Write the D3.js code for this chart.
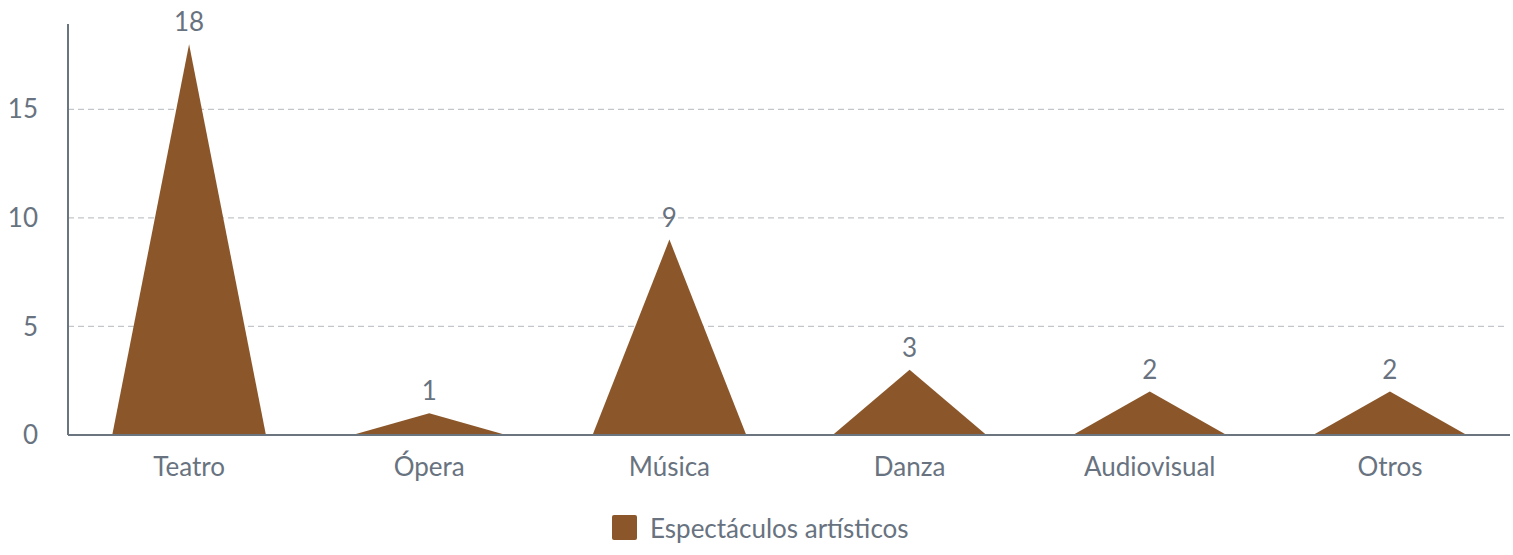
<!DOCTYPE html>
<html><head><meta charset="utf-8">
<script src="https://cdn.jsdelivr.net/npm/d3@7"></script>
<style>
body{margin:0;background:#fff;}
text{font-family:Lato, "Noto Sans", sans-serif;font-weight:400;}
</style></head>
<body><svg id="c" width="1513" height="555"></svg>
<script>
const categories = ["Teatro","Ópera","Música","Danza","Audiovisual","Otros"];
const values = [18,1,9,3,2,2];
const yTicks = [0,5,10,15];
const seriesName = "Espectáculos artísticos";

(function(){
const svg = d3.select("#c");
const mLeft = 68, mRight = 1510, mTop = 24, mBottom = 435;
const x = d3.scaleBand().domain(categories).range([mLeft+1,mRight]).paddingInner(0.36).paddingOuter(0.18);
const y = d3.scaleLinear().domain([0,18.93]).range([mBottom,mTop]);
const textCol = "#68737f", axisCol = "#6b7580", barCol = "#8B572A";
const fs = 26;

svg.append("g").selectAll("line").data(yTicks.filter(d=>d>0)).join("line")
  .attr("x1",mLeft).attr("x2",mRight-2).attr("y1",d=>y(d)).attr("y2",d=>y(d))
  .attr("stroke","#c2c6ca").attr("stroke-width",1.3).attr("stroke-dasharray","6,4");

svg.append("g").selectAll("text").data(yTicks).join("text")
  .attr("x",38).attr("y",d=>y(d)).attr("dy","0.35em").attr("text-anchor","end")
  .attr("font-size",fs).attr("fill",textCol).text(d=>d);

svg.append("g").selectAll("path").data(values).join("path")
  .attr("d",(d,i)=>{const x0=x(categories[i]), w=x.bandwidth();
    return `M${x0},${y(0)}L${x0+w/2},${y(d)}L${x0+w},${y(0)}Z`;})
  .attr("fill",barCol);

svg.append("g").selectAll("text").data(values).join("text")
  .attr("x",(d,i)=>x(categories[i])+x.bandwidth()/2).attr("y",d=>y(d)-13)
  .attr("text-anchor","middle").attr("font-size",fs).attr("fill",textCol).text(d=>d);

svg.append("line").attr("x1",mLeft).attr("x2",mLeft).attr("y1",mTop).attr("y2",mBottom)
  .attr("stroke",axisCol).attr("stroke-width",2);
svg.append("line").attr("x1",mLeft).attr("x2",mRight).attr("y1",mBottom).attr("y2",mBottom)
  .attr("stroke",axisCol).attr("stroke-width",2);

svg.append("g").selectAll("text").data(categories).join("text")
  .attr("x",d=>x(d)+x.bandwidth()/2).attr("y",476).attr("text-anchor","middle")
  .attr("font-size",fs).attr("fill",textCol).text(d=>d);

const lg = svg.append("g");
lg.append("rect").attr("x",612).attr("y",515).attr("width",25).attr("height",25).attr("rx",2).attr("fill",barCol);
lg.append("text").attr("x",650).attr("y",538).attr("font-size",fs).attr("fill",textCol).text(seriesName);
})();
</script></body></html>
